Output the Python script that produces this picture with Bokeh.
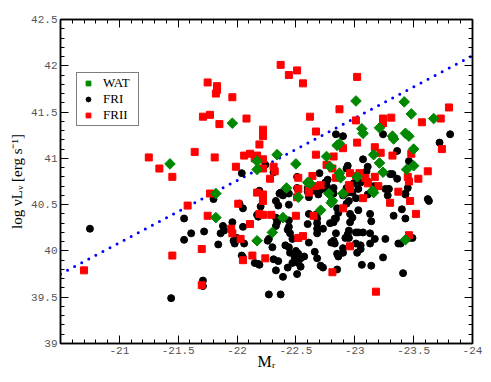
import math
from bokeh.plotting import figure
from bokeh.models import Range1d, LinearAxis, FixedTicker, Legend, LegendItem, NumeralTickFormatter
from bokeh.embed import file_html
from bokeh.resources import INLINE

# ---------------- data ----------------
wat_mr = [-21.96, -21.43, -21.82, -21.82, -22.17, -22.30, -22.39, -22.52, -22.78, -22.71,
          -22.80, -23.16, -22.90, -22.81, -23.43, -23.01, -23.42, -23.48, -23.67, -23.06,
          -23.07, -23.21, -23.32, -23.33, -23.43, -23.46, -23.50, -22.85, -22.87, -22.34,
          -22.76, -23.16, -23.21, -22.50, -23.50, -22.17, -22.17, -22.79, -22.87, -22.88,
          -23.24, -23.44, -23.02, -22.42, -22.60, -22.62, -23.15]
wat_lum = [41.38, 40.94, 40.62, 40.36, 40.11, 40.20, 40.36, 40.58, 40.62, 40.44,
           40.52, 40.63, 40.62, 40.54, 40.12, 41.62, 41.61, 41.48, 41.43, 41.32,
           41.27, 41.33, 41.24, 41.21, 41.27, 41.24, 41.10, 41.14, 41.16, 41.04,
           41.02, 41.04, 40.95, 40.94, 40.92, 40.97, 40.88, 40.91, 40.84, 40.79,
           40.85, 40.88, 40.80, 40.68, 40.74, 40.73, 40.65]

fri_mr = [-22.04, -20.75, -21.44, -21.55, -21.55, -21.61, -21.71, -21.71, -21.72, -21.80,
          -21.84, -21.86, -21.88, -21.89, -21.96, -21.97, -21.98, -22.00, -22.02, -22.05,
          -22.05, -22.06, -22.04, -22.05, -22.17, -22.18, -22.15, -22.18, -22.27, -22.37,
          -22.51, -22.33, -22.39, -22.19, -22.31, -22.35, -22.30, -22.26, -22.27, -22.33,
          -22.34, -22.33, -22.35, -22.33, -22.20, -22.44, -22.36, -22.60, -22.69, -22.67,
          -22.68, -22.61, -22.44, -22.44, -22.43, -22.60, -22.68, -22.68, -22.68, -22.73,
          -22.45, -22.47, -22.61, -22.84, -22.82, -22.41, -22.44, -22.45, -22.50, -22.52,
          -22.49, -22.51, -22.54, -22.57, -22.47, -22.52, -22.66, -22.68, -22.71, -22.73,
          -22.54, -22.43, -22.80, -22.79, -22.83, -22.61, -23.41, -22.85, -23.06, -23.14,
          -23.24, -22.85, -22.86, -22.90, -22.90, -23.02, -23.05, -22.83, -23.01, -23.05,
          -22.92, -22.95, -22.95, -22.94, -23.01, -23.03, -23.07, -23.13, -23.17, -23.13,
          -23.26, -23.37, -22.96, -22.98, -22.96, -23.03, -23.13, -23.14, -22.85, -22.86,
          -22.82, -22.84, -22.93, -22.95, -23.01, -22.98, -23.11, -23.28, -23.33, -23.40,
          -23.43, -23.46, -23.49, -23.39, -23.43, -23.63, -22.84, -22.90, -23.24, -23.72,
          -23.81, -23.36, -23.07, -23.46, -22.24, -22.31, -22.70, -22.94, -22.93, -23.11,
          -23.10, -23.30, -23.32, -23.36, -22.77, -22.75, -22.51, -22.51, -22.19, -22.37,
          -22.44, -22.60, -22.64, -22.68, -22.71, -22.77, -22.82, -22.93, -22.99, -23.05,
          -23.11, -23.26, -23.29, -23.43, -23.62, -22.90, -22.39, -22.82, -22.94, -23.02,
          -23.16, -23.03, -23.45, -22.76]
fri_lum = [40.84, 40.24, 39.49, 40.35, 40.12, 40.19, 39.68, 39.62, 40.21, 40.56,
           40.07, 40.19, 40.27, 40.22, 40.31, 40.11, 40.08, 40.14, 40.51, 40.46,
           40.26, 40.08, 39.95, 39.93, 40.39, 40.37, 39.87, 39.86, 39.53, 39.53,
           39.75, 39.79, 39.72, 39.85, 39.91, 39.89, 40.04, 40.11, 40.13, 40.36,
           40.31, 40.27, 40.49, 40.54, 40.48, 40.50, 40.62, 40.64, 40.61, 40.39,
           40.35, 40.40, 40.33, 40.26, 40.23, 40.29, 40.30, 40.24, 40.19, 40.24,
           40.19, 40.13, 40.09, 40.19, 40.11, 40.06, 40.04, 39.98, 40.00, 39.97,
           39.93, 39.90, 39.92, 39.94, 39.87, 39.87, 39.99, 39.92, 39.84, 39.82,
           39.83, 39.82, 40.09, 40.30, 40.35, 40.58, 39.76, 39.80, 39.85, 39.84,
           39.93, 39.97, 39.94, 40.03, 39.98, 39.98, 40.02, 40.08, 40.08, 40.06,
           40.14, 40.14, 40.22, 40.18, 40.20, 40.20, 40.20, 40.19, 40.13, 40.08,
           40.13, 40.08, 40.31, 40.36, 40.40, 40.44, 40.40, 40.32, 40.46, 40.41,
           40.31, 40.35, 40.51, 40.54, 40.57, 40.63, 40.61, 40.60, 40.38, 40.45,
           40.35, 40.14, 40.14, 40.08, 40.61, 40.54, 41.26, 41.24, 41.26, 41.17,
           41.26, 41.08, 40.99, 40.97, 40.93, 40.85, 40.84, 40.92, 40.89, 40.91,
           40.86, 40.83, 40.83, 40.78, 40.77, 40.74, 40.80, 40.68, 40.65, 40.63,
           40.62, 40.68, 40.65, 40.68, 40.66, 40.65, 40.68, 40.68, 40.73, 40.74,
           40.75, 40.67, 40.67, 40.62, 40.56, 40.60, 40.60, 40.62, 40.63, 40.76,
           40.70, 40.67, 40.68, 40.71]

frii_mr = [-21.75, -21.83, -21.83, -21.82, -21.96, -21.71, -21.77, -21.85, -22.08, -21.25,
           -21.34, -21.45, -21.64, -21.81, -21.99, -22.06, -22.11, -22.15, -21.77, -20.70,
           -21.45, -21.58, -21.70, -21.70, -21.75, -21.95, -21.96, -22.03, -22.01, -22.05,
           -22.11, -22.13, -22.19, -22.37, -22.44, -22.51, -22.56, -23.02, -22.87, -22.62,
           -23.80, -23.73, -23.57, -23.31, -23.24, -23.24, -23.01, -22.67, -22.22, -22.22,
           -22.19, -23.74, -23.02, -22.90, -22.67, -22.82, -23.17, -23.22, -23.32, -23.48,
           -22.17, -22.22, -22.31, -22.32, -22.22, -22.28, -22.76, -23.09, -22.96, -23.62,
           -23.45, -23.46, -23.54, -23.17, -22.64, -22.52, -22.52, -22.61, -22.95, -23.37,
           -23.20, -22.66, -22.71, -22.81, -22.84, -23.01, -23.04, -23.11, -22.96, -22.22,
           -22.17, -22.22, -22.22, -22.29, -22.24, -22.51, -22.61, -22.65, -22.50, -22.52,
           -22.56, -22.81, -23.18, -22.96, -22.90, -23.07, -23.30, -23.47, -23.52, -23.46]
frii_lum = [41.82, 41.78, 41.74, 41.70, 41.66, 41.45, 41.47, 41.37, 41.43, 41.01,
            40.89, 40.80, 41.07, 41.01, 40.91, 41.03, 41.05, 41.00, 40.62, 39.79,
            39.95, 40.49, 40.02, 39.63, 40.38, 40.24, 40.19, 40.13, 40.51, 39.90,
            40.29, 39.95, 40.40, 42.01, 41.90, 41.95, 41.81, 41.88, 41.53, 41.45,
            41.55, 41.43, 41.39, 41.44, 41.43, 41.38, 41.41, 41.29, 41.31, 41.24,
            41.15, 41.10, 41.17, 41.11, 41.04, 41.02, 41.12, 41.06, 41.03, 41.05,
            41.03, 40.99, 40.91, 40.86, 40.89, 40.78, 40.93, 40.79, 40.84, 40.86,
            40.80, 40.75, 40.78, 40.80, 40.81, 40.79, 40.67, 40.66, 40.71, 40.64,
            40.70, 40.70, 40.71, 40.89, 40.79, 40.81, 40.84, 40.73, 40.67, 40.61,
            40.63, 40.54, 40.39, 40.39, 39.92, 40.58, 40.63, 40.38, 40.38, 40.14,
            40.16, 39.77, 39.56, 40.05, 40.46, 40.57, 40.52, 40.54, 40.40, 40.17]

line_mr = [-20.5, -24.0]
line_lum = [39.75, 42.11]

x_ticks = [-21.0, -21.5, -22.0, -22.5, -23.0, -23.5, -24.0]
y_ticks = [39.0, 39.5, 40.0, 40.5, 41.0, 41.5, 42.0, 42.5]
x_minor = [round(-20.5 - 0.1 * i, 1) for i in range(0, 36)]
y_minor = [round(39.0 + 0.1 * i, 1) for i in range(0, 36)]

# ---------------- figure ----------------
p = figure(frame_width=412, frame_height=324,
           x_range=Range1d(-20.5, -24.0), y_range=Range1d(39.0, 42.5),
           output_backend="svg", toolbar_location=None,
           min_border_left=60, min_border_right=11, min_border_top=19, min_border_bottom=31)
p.grid.visible = False
p.outline_line_color = "black"
p.outline_line_width = 1.5
p.background_fill_color = "white"
p.border_fill_color = "white"

tick_font = "Liberation Mono"
label_font = "Liberation Serif"


def style_axis(ax, labels=True):
    ax.axis_line_color = "black"
    ax.axis_line_width = 1.5
    ax.major_tick_line_color = "black"
    ax.minor_tick_line_color = "black"
    ax.major_tick_in = 8
    ax.major_tick_out = 0
    ax.minor_tick_in = 4
    ax.minor_tick_out = 0
    ax.major_tick_line_width = 1
    ax.minor_tick_line_width = 1
    if labels:
        ax.major_label_text_font = tick_font
        ax.major_label_text_font_size = "11px"
        ax.major_label_text_color = "#555555"
        ax.formatter = NumeralTickFormatter(format="0.[0]")
        ax.major_label_standoff = 3
        ax.axis_label_text_font = label_font
        ax.axis_label_text_font_style = "normal"
        ax.axis_label_text_color = "black"
    else:
        ax.major_label_text_font_size = "1px"
        ax.major_label_text_color = None
        ax.major_label_standoff = 0


xa = p.xaxis[0]
ya = p.yaxis[0]
xa.ticker = FixedTicker(ticks=x_ticks, minor_ticks=x_minor)
ya.ticker = FixedTicker(ticks=y_ticks, minor_ticks=y_minor)
style_axis(xa)
style_axis(ya)
ya.axis_label = "log \u03bdL\u1d65 [erg s\u207b\u00b9]"
ya.axis_label_text_font_size = "15px"
ya.axis_label_standoff = 3
xa.axis_label = "M\u1d63"
xa.axis_label_text_font_size = "16px"
xa.axis_label_standoff = -4

top = LinearAxis(ticker=FixedTicker(ticks=x_ticks, minor_ticks=x_minor))
right = LinearAxis(ticker=FixedTicker(ticks=y_ticks, minor_ticks=y_minor))
style_axis(top, labels=False)
style_axis(right, labels=False)
p.add_layout(top, "above")
p.add_layout(right, "right")

# ---------------- glyphs ----------------
p.line(line_mr, line_lum, line_color="#0000ff", line_width=3, line_dash="0 8", line_cap="round")
r_fri = p.scatter(fri_mr, fri_lum, marker="circle", size=7, fill_color="black", line_color="black")
r_frii = p.scatter(frii_mr, frii_lum, marker="square", size=7, fill_color="#ff0000", line_color="#ff0000")
r_wat = p.scatter(wat_mr, wat_lum, marker="square", size=7.5, angle=math.pi / 4,
                  fill_color="#008800", line_color="#008800")

legend = Legend(items=[LegendItem(label="WAT", renderers=[r_wat]),
                       LegendItem(label="FRI", renderers=[r_fri]),
                       LegendItem(label="FRII", renderers=[r_frii])],
                location=(16, 217))
legend.label_text_font = label_font
legend.label_text_font_size = "13px"
legend.label_text_color = "black"
legend.border_line_color = "black"
legend.border_line_width = 1.5
legend.background_fill_color = "white"
legend.background_fill_alpha = 1.0
legend.glyph_width = 18
legend.glyph_height = 12
legend.label_height = 12
legend.label_width = 33
legend.label_standoff = 6
legend.spacing = 0
legend.padding = 2
legend.margin = 0
p.add_layout(legend, "center")

open("out.html", "w").write(file_html(p, INLINE))
